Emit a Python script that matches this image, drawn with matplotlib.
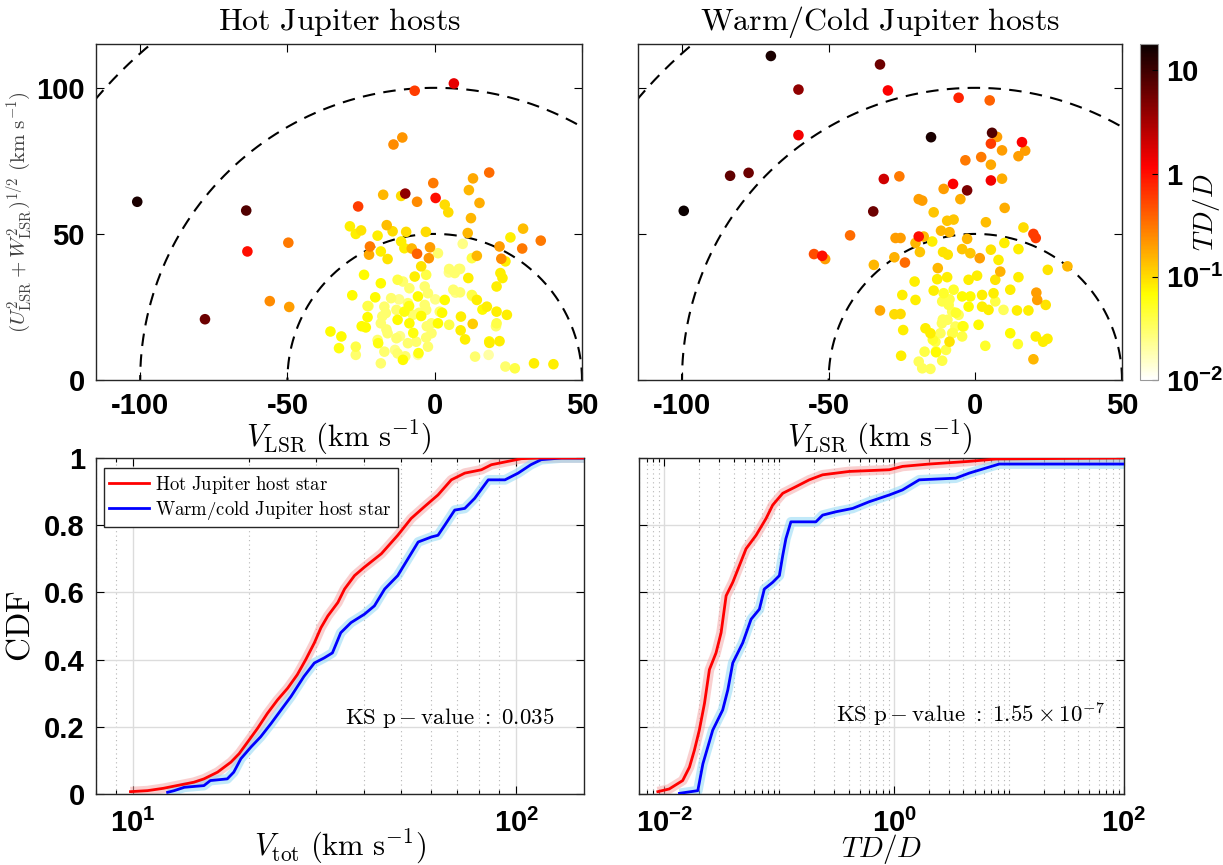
import numpy as np
import matplotlib
matplotlib.use("Agg")
import matplotlib.pyplot as plt
from matplotlib.colors import LogNorm
from matplotlib.ticker import FixedLocator, LogLocator, NullFormatter, FuncFormatter, LogFormatterSciNotation

plt.rcParams['font.family'] = ['Liberation Sans', 'DejaVu Sans']
plt.rcParams['font.weight'] = 'bold'
plt.rcParams['mathtext.fontset'] = 'custom'
plt.rcParams['mathtext.rm'] = 'Liberation Sans:bold'
plt.rcParams['mathtext.it'] = 'Liberation Sans:bold'
plt.rcParams['mathtext.bf'] = 'Liberation Sans:bold'
plt.rcParams['axes.edgecolor'] = '#262626'
plt.rcParams['axes.linewidth'] = 1.0
plt.rcParams['axes.unicode_minus'] = False

# --- scatter data: hot Jupiter hosts (V_LSR, sqrt(U^2+W^2), TD/D)
hj_vlsr = [-101, -64, -63.6, -49.7, -78, -56, -49.4, -6.8, 6.5, -14, -11, 18.5, -0.5, 13, 11.6, 15.2,
           -10, -11.4, -17.5, -6, 0.3, -26, 3.4, 4.6, 12.3, 11.2, 30, 25.7, 36, 29.7, 22, 22.6, 24, 14.3,
           9.5, -1.6, -2, -6, -7.8, -22, -22.3, -28.8, -26.8, -25, -19.4, -16.3, -14.3, -9.7, -3, -11.4,
           -10.3, -18.3, -16, -4.6, -24, -6.8, -2.9, 4.9, 6.8, 8.6, 11.4, 22.3, 23, 21, 6.3, 8.6, 12.6,
           14.3, 3.4, -28, -20.2, -22.8, -22.8, -23.4, -35.4, -31.7, -32.5, -26.8, -26.8, -18.3, -10.8,
           24, 27.2, 33.7, 40.3, 13.7, 18.3, 8.9, 12.9, 8.8, 10.3, 17.7, 21, 24.5, 18.6, 22, 21, 4.9,
           -2.3, -1.1, 1.7, -3.4, -4.6, -8.6, -12.6, -13, -9.1, -16.6, -18.3, -16, -19.4, -13, -9.1,
           -6.3, -2.9, -17.1, -12.6, -5.7, -10.8, -8.6, -3.4, -18.3, -12.6, -5.7, -2.3, -14.8, -1.1, 1.1,
           -17.1, -10.3, -7.4, -2.9, 12.6, 1.1,
           -17.8, -12.1, -8.7, -5.3, -16.4, -11.8, -7.3, -2.7, -19.2, -13.5, -10, -5.5, 4.8, 8.2, 7.1,
           12.8, 16.2, 20.8, 18.5, -22.5, -24.8, 2.5, 0.2]
hj_uw = [61, 58, 44, 47, 20.8, 27, 25, 99, 101.5, 80.6, 83, 71, 67.4, 69, 65, 60.6,
         63.8, 63, 63.4, 61, 62.3, 59.4, 60, 57.4, 55.4, 50.3, 51.8, 48.8, 47.7, 45, 45.7, 41.5, 40.6, 42.5,
         46.6, 45.4, 41.7, 43.2, 45, 45.7, 42.9, 52.6, 50, 51.2, 49.4, 53, 50.9, 50.7, 50.7, 47.4,
         45.1, 44, 41.4, 38.9, 36, 35.4, 36, 38, 36.6, 38, 34.9, 36.6, 34.9, 32, 30.9, 30, 29.1,
         27.4, 27.4, 29, 28.3, 25.3, 21.5, 18, 16.6, 14.9, 10.9, 11.4, 8.6, 5.7, 6.9,
         4.6, 4, 5.7, 5.4, 8, 8.6, 21.7, 19.2, 17, 13.9, 25.1, 23.4, 22.3, 12.7, 13.3, 19.4, 18.9,
         11.4, 16, 23.4, 25.7, 21.9, 19.4, 20.6, 24, 26.3, 22.9, 19.4, 16, 13.7, 14.3, 12.6,
         13.1, 14.5, 9.7, 9.1, 8.6, 33.7, 31.4, 32, 33.1, 34.3, 28.6, 29.7, 28, 19.4, 19.4,
         25.1, 23.4, 22.3, 24, 41.7, 43.4,
         21.8, 27.6, 25.3, 23, 17.3, 15, 16.1, 18.4, 12.6, 10.3, 8.1, 9.2, 36.8, 38, 29.9,
         28.7, 24.1, 18.4, 13.2, 25.3, 18.4, 23, 27.6]
hj_td = [15, 8, 1.0, 0.3, 6, 0.25, 0.2, 0.6, 1.5, 0.25, 0.22, 0.35, 0.3, 0.18, 0.15, 0.17,
         4, 0.1, 0.15, 0.25, 1.0, 0.6, 0.1, 0.1, 0.15, 0.15, 0.14, 0.08, 0.3, 0.3, 0.2, 0.25, 0.08, 0.15,
         0.025, 0.2, 0.22, 0.4, 0.15, 0.3, 0.18, 0.08, 0.08, 0.09, 0.08, 0.14, 0.1, 0.1, 0.1, 0.08,
         0.08, 0.08, 0.09, 0.09, 0.07, 0.08, 0.04, 0.03, 0.03, 0.03, 0.08, 0.08, 0.08, 0.08, 0.03, 0.03, 0.04,
         0.08, 0.07, 0.07, 0.07, 0.04, 0.07, 0.07, 0.07, 0.07, 0.06, 0.04, 0.03, 0.03, 0.07,
         0.03, 0.04, 0.08, 0.08, 0.03, 0.02, 0.08, 0.12, 0.08, 0.08, 0.08, 0.08, 0.08, 0.08, 0.08, 0.04, 0.04,
         0.03, 0.03, 0.03, 0.03, 0.07, 0.07, 0.07, 0.03, 0.03, 0.03, 0.03, 0.03, 0.03, 0.03, 0.03,
         0.03, 0.03, 0.03, 0.03, 0.02, 0.03, 0.03, 0.03, 0.07, 0.04, 0.07, 0.03, 0.03, 0.03, 0.07,
         0.03, 0.06, 0.03, 0.03, 0.04, 0.03,
         0.03, 0.025, 0.06, 0.03, 0.03, 0.025, 0.06, 0.03, 0.06, 0.025, 0.03, 0.06, 0.025, 0.03, 0.025,
         0.03, 0.07, 0.03, 0.07, 0.03, 0.07, 0.07, 0.025]

# --- scatter data: warm/cold Jupiter hosts
wc_vlsr = [-69.7, -32.5, -60.3, -29.8, -5.7, 4.9, -60.3, -15.1, 5.7, 7.4, 5.3, 15.9, 9.1, 14.7, 17, 2,
           -3.4, 5.3, 9.1, 5.3, -83.6, -77.3, -31.2, -25.9, -7.6, -2.8, -10.8, -5.1, -19.3, -18.1, -99.4,
           -34.8, 10, -14.2, -9.6, -7.4, 3.6, 16.4, -11.7, -8.8, -42.7, -27.2, -25.5, -19.3, -17.6, -20.4,
           -14.7, -2.8, 19.8, 20.6, 9.9, 14.7, 5.3, -4.5, -1.7, -11, -9.4, -18.9, -55, -52.2, -51.2, -27.6,
           -24, -34.6, 1.5, 7.9, 31.4, 24.7, -12.8, 8.5, 6.8, 14.7, -20.7, -13, -9.6, -2.3, 0.6, -14.2,
           -10.8, -7.4, -4.5, -1.7, 2.3, 6.2, 11.9, 20.8, 21.1, 24, 14.2, 18.1, 2.3, 4.5, -24.9, -20.4,
           -32.5, -27.6, -25.5, -24.6, -25.3, -17.3, -13.4, -8.8, 1.1, 11.9, 14.5, 3.4, 20.6, 23.1, 24.6,
           19.8, -19.3, -18.1, -15.3, -11.3, -17, -15.3, -13.6, -11.4, -9.5, -6.8, -7.9, -5.7, -4, -4.5,
           -11.3, -9.1, -2.3, -11.9, -7.9, 6.8, 9.6,
           -8.8, -6.6, -11.1, -4.3, -7.7, -14.5, -13.4, -10]
wc_uw = [110.9, 108, 99.4, 99.1, 96.6, 95.7, 83.8, 83.1, 84.6, 83.2, 80.9, 81.4, 78.6, 76.6, 78.5, 76.3,
         75.2, 73.7, 68.9, 68.3, 69.9, 70.9, 68.8, 69.7, 67.1, 64.9, 65.4, 61.9, 61.9, 61.4, 57.9,
         57.7, 58.9, 57.4, 54.5, 54.9, 54, 52.2, 51.1, 50.6, 49.5, 48.6, 48.6, 49.1, 49.1, 46.9,
         47.4, 48.3, 50, 48.6, 46.9, 44.8, 44.6, 44.8, 43.4, 43.8, 42.9, 43.8, 43.1, 42.5, 41.4, 42,
         40.2, 39.4, 41.7, 41.1, 38.9, 37.7, 38.3, 37.1, 34.3, 35.2, 33.7, 34.5, 35.2, 34.3, 35.7, 30.6,
         29.7, 30.9, 28.6, 28.6, 29.1, 29.7, 30.9, 29.9, 27.4, 25.7, 23.8, 23.8, 25.1, 24, 29.1, 27.4,
         23.8, 22.5, 22.6, 17.1, 8.3, 9.7, 9.5, 13.1, 18.9, 16, 12.3, 11.7, 14.9, 13.1, 14.1,
         7.1, 6.3, 4, 3.8, 6.6, 17.7, 16, 13.1, 19.4, 20.6, 18.3, 23.4, 22.3, 18.3, 14.9,
         26.9, 25.7, 25.1, 16, 16, 26.9, 24,
         27.6, 23, 20.7, 18.4, 16.1, 13.8, 9.8, 10.3]
wc_td = [15, 6, 4, 1.2, 0.8, 0.4, 1.3, 15, 8, 0.2, 0.6, 1.2, 0.2, 0.2, 0.2, 0.3,
         0.3, 0.18, 0.17, 1.3, 7, 6, 2, 0.3, 1.2, 5, 0.2, 0.17, 0.2, 0.2, 20,
         6, 0.17, 0.13, 0.13, 0.13, 0.14, 0.1, 0.15, 0.15, 0.35, 0.2, 0.2, 1.0, 0.15, 0.15,
         0.08, 0.15, 0.6, 0.6, 0.08, 0.08, 0.09, 0.13, 0.13, 0.09, 0.09, 0.13, 0.5, 1.0, 0.2, 0.16,
         0.35, 0.15, 0.2, 0.08, 0.15, 0.09, 0.15, 0.16, 0.09, 0.08, 0.08, 0.08, 0.08, 0.08, 0.08, 0.08,
         0.05, 0.05, 0.07, 0.07, 0.08, 0.08, 0.08, 0.2, 0.2, 0.09, 0.08, 0.08, 0.08, 0.08, 0.08, 0.08,
         0.18, 0.1, 0.1, 0.08, 0.08, 0.04, 0.07, 0.09, 0.07, 0.07, 0.05, 0.05, 0.08, 0.08, 0.08,
         0.15, 0.035, 0.035, 0.035, 0.04, 0.08, 0.08, 0.04, 0.035, 0.035, 0.035, 0.035, 0.035, 0.04, 0.04,
         0.04, 0.04, 0.07, 0.035, 0.035, 0.04, 0.035,
         0.04, 0.05, 0.035, 0.06, 0.04, 0.05, 0.035, 0.04]

circle_radii = [50, 100, 150]

# --- CDF curves
hj_vtot = [9.84, 10.9, 12.0, 13.0, 14.4, 15.3, 16.6, 18.0, 18.9, 19.9, 21.1, 22.4, 23.8, 25.3, 26.8, 28.2,
           29.7, 30.9, 32.2, 34.2, 35.6, 37.8, 40.1, 44.4, 49.0, 53.1, 57.5, 62.4, 67.6, 73.3, 81, 86, 95,
           103, 114, 150]
hj_vtot_cdf = [0.007, 0.01, 0.017, 0.025, 0.035, 0.045, 0.065, 0.095, 0.12, 0.155, 0.195, 0.24, 0.28,
               0.315, 0.355, 0.40, 0.45, 0.495, 0.53, 0.57, 0.61, 0.65, 0.675, 0.715, 0.77, 0.82, 0.855,
               0.89, 0.935, 0.955, 0.965, 0.98, 0.99, 0.998, 1.0, 1.0]
wc_vtot = [12.3, 12.8, 13.6, 15.3, 15.9, 17.6, 18.3, 19.1, 20.3, 21.5, 22.9, 24.3, 25.8, 27.9, 29.7, 31.5,
           33.1, 34.8, 37.0, 40.1, 42.6, 45.3, 49.0, 52.1, 55.4, 60, 62.4, 65, 69, 73.3, 77.8, 84.4, 93.3,
           101, 109, 116, 131, 150]
wc_vtot_cdf = [0.005, 0.01, 0.02, 0.025, 0.04, 0.045, 0.065, 0.105, 0.14, 0.17, 0.21, 0.25, 0.29, 0.35,
               0.39, 0.405, 0.42, 0.48, 0.51, 0.535, 0.56, 0.61, 0.65, 0.70, 0.75, 0.765, 0.77, 0.80, 0.845,
               0.85, 0.88, 0.935, 0.935, 0.955, 0.98, 0.995, 1.0, 1.0]
hj_tdd = [0.00875, 0.011, 0.0144, 0.0165, 0.0182, 0.0201, 0.0223, 0.0246, 0.0281, 0.0311, 0.0344, 0.0393,
          0.0449, 0.0513, 0.0627, 0.0766, 0.0875, 0.107, 0.14, 0.182, 0.238, 0.406, 0.906, 1.18, 2.01,
          4.49, 7.65, 84.7, 100]
hj_tdd_cdf = [0.007, 0.015, 0.04, 0.08, 0.13, 0.19, 0.27, 0.37, 0.42, 0.48, 0.59, 0.63, 0.68, 0.73,
              0.77, 0.82, 0.86, 0.895, 0.915, 0.935, 0.95, 0.96, 0.965, 0.975, 0.982, 0.99, 0.997, 1.0, 1.0]
wc_tdd = [0.0135, 0.0195, 0.0216, 0.0263, 0.0321, 0.0356, 0.0393, 0.048, 0.0567, 0.067, 0.074, 0.0875,
          0.1, 0.107, 0.114, 0.126, 0.208, 0.238, 0.311, 0.435, 0.607, 0.906, 1.18, 1.65, 3.43, 4.49,
          6.27, 8.19, 100]
wc_tdd_cdf = [0.002, 0.01, 0.09, 0.19, 0.25, 0.31, 0.39, 0.45, 0.52, 0.55, 0.61, 0.63, 0.65, 0.71, 0.76,
              0.81, 0.81, 0.83, 0.84, 0.85, 0.87, 0.89, 0.905, 0.935, 0.94, 0.955, 0.97, 0.982, 0.982]

W, H = 1223, 865
fig = plt.figure(figsize=(W / 100, H / 100), dpi=100)


def box(l, t, r, b):
    return [l / W, 1 - b / H, (r - l) / W, (b - t) / H]


ax_hj = fig.add_axes(box(96, 44, 582, 380))
ax_wc = fig.add_axes(box(638, 44, 1122, 380))
cax = fig.add_axes(box(1140, 44, 1158, 380))
ax_v = fig.add_axes(box(96, 458, 584, 794))
ax_t = fig.add_axes(box(639, 458, 1124, 794))

norm = LogNorm(vmin=0.01, vmax=18)
theta = np.linspace(0, np.pi, 500)
CM = 'cm'


def scatter_panel(ax, v, uw, td, title, ylabels):
    v, uw, td = map(np.asarray, (v, uw, td))
    order = np.argsort(td)
    sc = ax.scatter(v[order], uw[order], c=td[order], cmap='hot_r', norm=norm,
                    s=58, edgecolors='none', zorder=3)
    for r in circle_radii:
        ax.plot(r * np.cos(theta), r * np.sin(theta), color='black', lw=1.5,
                dashes=(6, 4), zorder=2)
    ax.set_xlim(-115, 50)
    ax.set_ylim(0, 115)
    ax.set_xticks([-100, -50, 0, 50])
    ax.set_yticks([0, 50, 100])
    ax.tick_params(direction='in', length=6, width=0.8, top=True, right=True,
                   labelsize=21)
    ax.tick_params(axis='x', pad=9)
    ax.tick_params(axis='y', pad=8)
    if not ylabels:
        ax.set_yticklabels([])
    ax.set_title(r'$\mathrm{' + title + '}$', fontsize=23, math_fontfamily=CM, pad=10)
    ax.set_xlabel(r'$V_{\rm LSR}\ ({\rm km\ s^{-1}})$', fontsize=22, math_fontfamily=CM)
    ax.xaxis.set_label_coords(0.5, -0.115)
    return sc


sc = scatter_panel(ax_hj, hj_vlsr, hj_uw, hj_td, r'Hot\ Jupiter\ hosts', True)
scatter_panel(ax_wc, wc_vlsr, wc_uw, wc_td, r'Warm/Cold\ Jupiter\ hosts', False)
ax_hj.set_ylabel(r'$(U^2_{\rm LSR} + W^2_{\rm LSR})^{1/2}\ ({\rm km\ s^{-1}})$',
                 fontsize=15, color='#444444', math_fontfamily=CM)
ax_hj.yaxis.set_label_coords(-0.128, 0.5)

cb = fig.colorbar(sc, cax=cax)
cb.set_ticks([0.01, 0.1, 1, 10])
cb.set_ticklabels([r'$\mathdefault{10^{-2}}$', r'$\mathdefault{10^{-1}}$', '1', '10'])
cb.minorticks_off()
cb.outline.set_edgecolor('#999999')
cb.outline.set_linewidth(0.8)
cax.tick_params(direction='in', length=4, width=0.8, labelsize=21, pad=6)
cb.set_label(r'$TD/D$', fontsize=20, math_fontfamily=CM)
cax.yaxis.set_label_coords(2.85, 0.5)


def cdf_panel(ax, xh, yh, xw, yw, xlim, major):
    ax.set_xscale('log')
    ax.plot(xh, yh, color='#f5a8a8', lw=7, alpha=0.55, solid_capstyle='butt', zorder=2)
    ax.plot(xw, yw, color='#8fd8f5', lw=7, alpha=0.55, solid_capstyle='butt', zorder=2)
    lh, = ax.plot(xh, yh, color='red', lw=2, zorder=4,
                  label=r'$\mathrm{Hot\ Jupiter\ host\ star}$')
    lw_, = ax.plot(xw, yw, color='blue', lw=2, zorder=3,
                   label=r'$\mathrm{Warm/cold\ Jupiter\ host\ star}$')
    ax.set_xlim(*xlim)
    ax.set_ylim(0, 1)
    ax.xaxis.set_major_locator(FixedLocator(major))
    ax.xaxis.set_major_formatter(LogFormatterSciNotation())
    ax.xaxis.set_minor_locator(LogLocator(base=10, subs=np.arange(1, 10), numticks=50))
    ax.xaxis.set_minor_formatter(NullFormatter())
    ax.set_yticks([0, 0.2, 0.4, 0.6, 0.8, 1.0])
    ax.yaxis.set_major_formatter(FuncFormatter(lambda v, p: f'{v:g}'))
    ax.grid(True, which='major', color='#dcdcdc', lw=1.0, zorder=0)
    ax.grid(True, which='minor', axis='x', color='#b5b5b5', lw=0.8, ls=(0, (1, 3)), zorder=0)
    ax.set_axisbelow(True)
    ax.tick_params(which='both', direction='in', top=True, right=True, width=0.8, labelsize=21)
    ax.tick_params(which='major', length=6)
    ax.tick_params(axis='x', which='major', pad=11)
    ax.tick_params(axis='y', which='major', pad=8)
    ax.tick_params(which='minor', length=3)
    return lh, lw_


lines = cdf_panel(ax_v, hj_vtot, hj_vtot_cdf, wc_vtot, wc_vtot_cdf, (8, 150), [10, 100])
cdf_panel(ax_t, hj_tdd, hj_tdd_cdf, wc_tdd, wc_tdd_cdf, (0.006, 100), [1e-2, 1, 1e2])
ax_t.set_yticklabels([])

ax_v.set_ylabel(r'$\mathrm{CDF}$', fontsize=24, math_fontfamily=CM)
ax_v.yaxis.set_label_coords(-0.121, 0.5)
ax_v.set_xlabel(r'$V_{\rm tot}\ ({\rm km\ s^{-1}})$', fontsize=22, math_fontfamily=CM)
ax_v.xaxis.set_label_coords(0.5, -0.1)
ax_t.set_xlabel(r'$TD/D$', fontsize=21, math_fontfamily=CM)
ax_t.xaxis.set_label_coords(0.5, -0.112)

leg = ax_v.legend(handles=list(lines), loc='upper left', bbox_to_anchor=(0.016, 0.97),
                  prop={'size': 13.5, 'math_fontfamily': CM}, frameon=True, fancybox=False,
                  edgecolor='#262626', framealpha=1, borderpad=0.3, handlelength=2.1,
                  handletextpad=0.35, labelspacing=0.15, borderaxespad=0)
leg.get_frame().set_linewidth(1.0)

ax_v.text(0.94, 0.225, r'$\mathrm{KS\ p} - \mathrm{value}\ :\ 0.035$', transform=ax_v.transAxes,
          ha='right', va='center', fontsize=16.5, math_fontfamily=CM)
ax_t.text(0.96, 0.235, r'$\mathrm{KS\ p} - \mathrm{value}\ :\ 1.55 \times 10^{-7}$',
          transform=ax_t.transAxes, ha='right', va='center', fontsize=16.5, math_fontfamily=CM)

fig.savefig('out.png', dpi=100)
